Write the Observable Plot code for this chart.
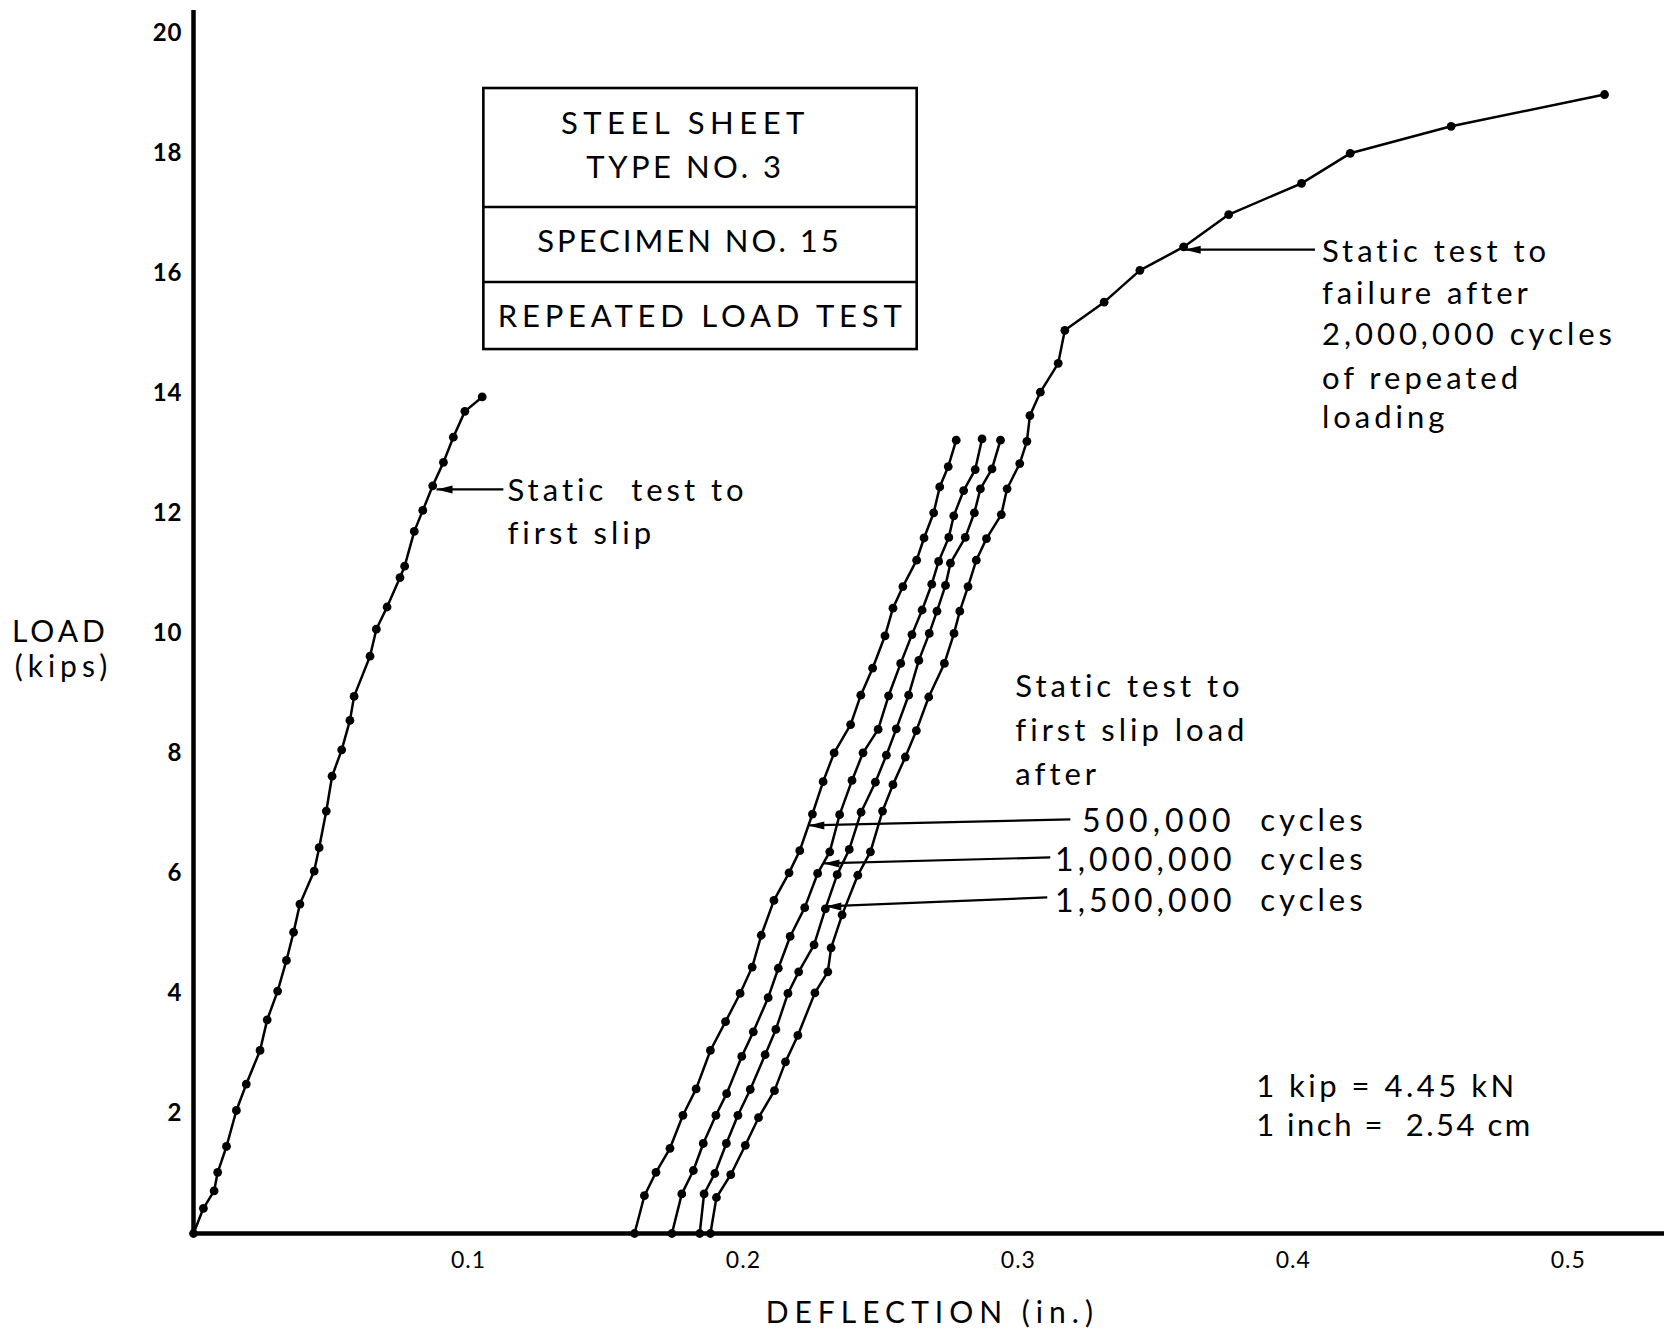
<!DOCTYPE html>
<html>
<head>
<meta charset="utf-8">
<script src="https://cdn.jsdelivr.net/npm/d3@7"></script>
<script src="https://cdn.jsdelivr.net/npm/@observablehq/plot@0.6"></script>
<style>
  html, body { margin: 0; padding: 0; background: #fff; }
  #chart { width: 1664px; height: 1332px; }
</style>
</head>
<body>
<div id="chart"></div>
<script>
// ---- Data: [deflection (in.), load (kips)] ----
const firstSlip = [
  [0,0],[0.0036,0.42],[0.0075,0.71],[0.0088,1.02],[0.012,1.45],[0.0156,2.05],[0.0192,2.49],
  [0.0242,3.05],[0.0268,3.56],[0.0306,4.04],[0.0338,4.55],[0.0364,5.02],[0.0387,5.49],
  [0.0439,6.04],[0.0457,6.43],[0.0483,7.04],[0.0504,7.62],[0.0539,8.06],[0.0569,8.55],
  [0.0584,8.95],[0.0642,9.62],[0.0665,10.07],[0.0704,10.44],[0.0751,10.93],[0.0768,11.12],
  [0.0803,11.70],[0.0834,12.05],[0.087,12.46],[0.0909,12.85],[0.0945,13.27],[0.0987,13.70],
  [0.105,13.94]
];
const after500k = [
  [0.1604,0],[0.164,0.63],[0.1682,1.02],[0.1733,1.42],[0.178,1.97],[0.1828,2.41],[0.188,3.05],
  [0.1935,3.53],[0.1988,4.0],[0.2032,4.44],[0.2065,4.97],[0.2111,5.55],[0.2166,6.01],[0.2205,6.38],
  [0.2251,6.99],[0.2290,7.53],[0.2330,8.01],[0.2390,8.48],[0.2427,8.97],[0.2470,9.42],[0.2515,9.96],
  [0.2544,10.42],[0.2580,10.78],[0.2630,11.22],[0.2657,11.59],[0.2692,12.01],[0.2714,12.44],
  [0.2745,12.78],[0.2774,13.22]
];
const after1M = [
  [0.174,0],[0.1776,0.66],[0.1818,1.05],[0.1854,1.5],[0.19,1.97],[0.1939,2.33],[0.1994,2.95],
  [0.2036,3.36],[0.2090,3.93],[0.2127,4.42],[0.2170,4.95],[0.2223,5.43],[0.2270,6.0],[0.2314,6.36],
  [0.2350,6.98],[0.2395,7.55],[0.2435,8.01],[0.2490,8.4],[0.2528,8.96],[0.2572,9.5],[0.2613,9.98],
  [0.2650,10.39],[0.2685,10.82],[0.2710,11.2],[0.2747,11.6],[0.2765,11.96],[0.2801,12.38],
  [0.2843,12.73],[0.2868,13.24]
];
const after1500k = [
  [0.1841,0],[0.1857,0.66],[0.1896,1.0],[0.1938,1.5],[0.198,1.97],[0.2025,2.4],[0.2079,2.98],
  [0.2118,3.4],[0.2162,4.0],[0.2201,4.36],[0.2257,4.81],[0.2298,5.41],[0.2341,5.98],[0.2385,6.4],
  [0.2428,7.02],[0.2480,7.52],[0.2520,7.97],[0.2556,8.41],[0.2601,8.97],[0.2638,9.55],[0.2676,10.0],
  [0.2704,10.37],[0.2735,10.8],[0.2753,11.17],[0.2807,11.6],[0.2840,12.01],[0.2862,12.41],
  [0.2904,12.74],[0.2935,13.22]
];
const toFailure = [
  [0.188,0],[0.1902,0.6],[0.1954,0.98],[0.2007,1.47],[0.2055,1.93],[0.2113,2.38],[0.2153,2.86],
  [0.2198,3.3],[0.2260,4.01],[0.2307,4.36],[0.2319,4.76],[0.2359,5.31],[0.2416,5.97],[0.2462,6.36],
  [0.2506,7.04],[0.2544,7.48],[0.2589,7.94],[0.2629,8.38],[0.2674,8.94],[0.2731,9.5],[0.2766,10.0],
  [0.2787,10.37],[0.2817,10.78],[0.2847,11.22],[0.2884,11.58],[0.2938,11.98],[0.2959,12.41],
  [0.3005,12.83],[0.3031,13.2],[0.3042,13.63],[0.308,14.02],[0.3145,14.5],[0.3169,15.05],
  [0.3312,15.52],[0.3442,16.05],[0.3601,16.44],[0.3765,16.98],[0.403,17.5],[0.4207,18.0],
  [0.4574,18.45],[0.5132,18.98]
];
const seriesNames = ["first slip", "500,000", "1,000,000", "1,500,000", "failure"];
const xTicks = [0.1, 0.2, 0.3, 0.4, 0.5];
const yTicks = [2, 4, 6, 8, 10, 12, 14, 16, 18, 20];

// ---- Build table ----
const seriesData = [firstSlip, after500k, after1M, after1500k, toFailure];
const rows = seriesData.flatMap((pts, i) => pts.map(([d, L]) => ({series: seriesNames[i], d, L})));

// arrows (annotation leaders) in data units
const arrows = [
  {x1: 0.1127, y1: 12.40, x2: 0.0884, y2: 12.40},
  {x1: 0.4079, y1: 16.395, x2: 0.3605, y2: 16.395},
  {x1: 0.3189, y1: 6.90, x2: 0.2236, y2: 6.80},
  {x1: 0.3116, y1: 6.267, x2: 0.2291, y2: 6.167},
  {x1: 0.3105, y1: 5.60, x2: 0.2298, y2: 5.45}
];

// left-pointing slim arrowhead
const headLeft = {
  draw(ctx) {
    ctx.moveTo(0, 0);
    ctx.lineTo(16, -4);
    ctx.lineTo(16, 4);
    ctx.closePath();
  }
};

const FONT = "Lato, 'DejaVu Sans', sans-serif";

const chart = Plot.plot({
  width: 1664,
  height: 1332,
  marginLeft: 193,
  marginRight: 0,
  marginTop: 10,
  marginBottom: 99,
  style: {fontFamily: FONT, background: "#fff", color: "#000", letterSpacing: "4px"},
  x: {domain: [0, 0.535], label: null},
  y: {domain: [0, 20.38], label: null},
  marks: [
    Plot.axisX({ticks: xTicks, tickSize: 0, tickPadding: 18, tickFormat: d3.format(".1f"), fontSize: 23, label: null}),
    Plot.axisY({ticks: yTicks, tickSize: 0, tickPadding: 11, fontSize: 24, fontWeight: "bold", label: null}),
    Plot.ruleX([0], {stroke: "#000", strokeWidth: 4.5}),
    Plot.ruleY([0], {stroke: "#000", strokeWidth: 4.5}),
    Plot.line(rows, {x: "d", y: "L", z: "series", stroke: "#000", strokeWidth: 2.5}),
    Plot.dot(rows, {x: "d", y: "L", r: 4.4, fill: "#000"}),
    // Title box
    Plot.rect([{x1: 0.1056, x2: 0.2632, y1: 14.73, y2: 19.08}], {x1: "x1", x2: "x2", y1: "y1", y2: "y2", fill: "none", stroke: "#000", strokeWidth: 2.6}),
    Plot.ruleY([17.105, 15.855], {x1: 0.1056, x2: 0.2632, stroke: "#000", strokeWidth: 2.6}),
    Plot.text([
      {x: 0.1789, y: 18.495, t: "STEEL SHEET"},
      {x: 0.1789, y: 17.75, t: "TYPE NO. 3"},
      {x: 0.1804, y: 16.52, t: "SPECIMEN NO. 15"},
      {x: 0.1850, y: 15.27, t: "REPEATED LOAD TEST"}
    ], {x: "x", y: "y", text: "t", fontSize: 31, textAnchor: "middle", fill: "#000"}),
    // arrows
    Plot.link(arrows, {x1: "x1", y1: "y1", x2: "x2", y2: "y2", stroke: "#000", strokeWidth: 2.2}),
    Plot.dot(arrows, {x: "x2", y: "y2", symbol: headLeft, fill: "#000", stroke: "none"}),
    // annotations (left-anchored)
    Plot.text([
      {x: 0.1142, y: 12.37, t: "Static  test to"},
      {x: 0.1142, y: 11.65, t: "first slip"},
      {x: 0.4104, y: 16.355, t: "Static test to"},
      {x: 0.4104, y: 15.66, t: "failure after"},
      {x: 0.4104, y: 14.97, t: "2,000,000 cycles"},
      {x: 0.4104, y: 14.245, t: "of repeated"},
      {x: 0.4104, y: 13.58, t: "loading"},
      {x: 0.2989, y: 9.10, t: "Static test to"},
      {x: 0.2989, y: 8.367, t: "first slip load"},
      {x: 0.2989, y: 7.633, t: "after"},
      {x: 0.388, y: 6.867, t: "cycles"},
      {x: 0.388, y: 6.217, t: "cycles"},
      {x: 0.388, y: 5.533, t: "cycles"},
      {x: 0.3865, y: 2.433, t: "1 kip = 4.45 kN"},
      {x: 0.3865, y: 1.783, t: "1 inch =  2.54 cm"}
    ], {x: "x", y: "y", text: "t", fontSize: 31, textAnchor: "start", fill: "#000"}),
    Plot.text([
      {x: 0.3790, y: 6.867, t: "500,000"},
      {x: 0.3790, y: 6.217, t: "1,000,000"},
      {x: 0.3790, y: 5.533, t: "1,500,000"}
    ], {x: "x", y: "y", text: "t", fontSize: 32, textAnchor: "end", fill: "#000"}),
    // axis titles
    Plot.text([
      {x: -0.0484, y: 10.02, t: "LOAD"},
      {x: -0.0473, y: 9.43, t: "(kips)"},
      {x: 0.2687, y: -1.333, t: "DEFLECTION (in.)"}
    ], {x: "x", y: "y", text: "t", fontSize: 30, textAnchor: "middle", fill: "#000"})
  ]
});

// per-text letter spacing tweaks
const spacing = {
  "STEEL SHEET": "5.5px", "TYPE NO. 3": "3.5px", "SPECIMEN NO. 15": "3px", "REPEATED LOAD TEST": "4.8px",
  "DEFLECTION (in.)": "6px", "500,000": "5px", "1,000,000": "4px", "1,500,000": "4px",
  "LOAD": "4px", "(kips)": "5px", "1 kip = 4.45 kN": "3.5px", "1 inch =  2.54 cm": "2.5px"
};
d3.select(chart).selectAll("text").each(function () {
  const s = spacing[this.textContent];
  if (s) this.style.letterSpacing = s;
});
d3.select(chart).selectAll('g[aria-label="x-axis tick label"] text, g[aria-label="y-axis tick label"] text')
  .style("letter-spacing", "1px");

document.getElementById("chart").appendChild(chart);
</script>
</body>
</html>
